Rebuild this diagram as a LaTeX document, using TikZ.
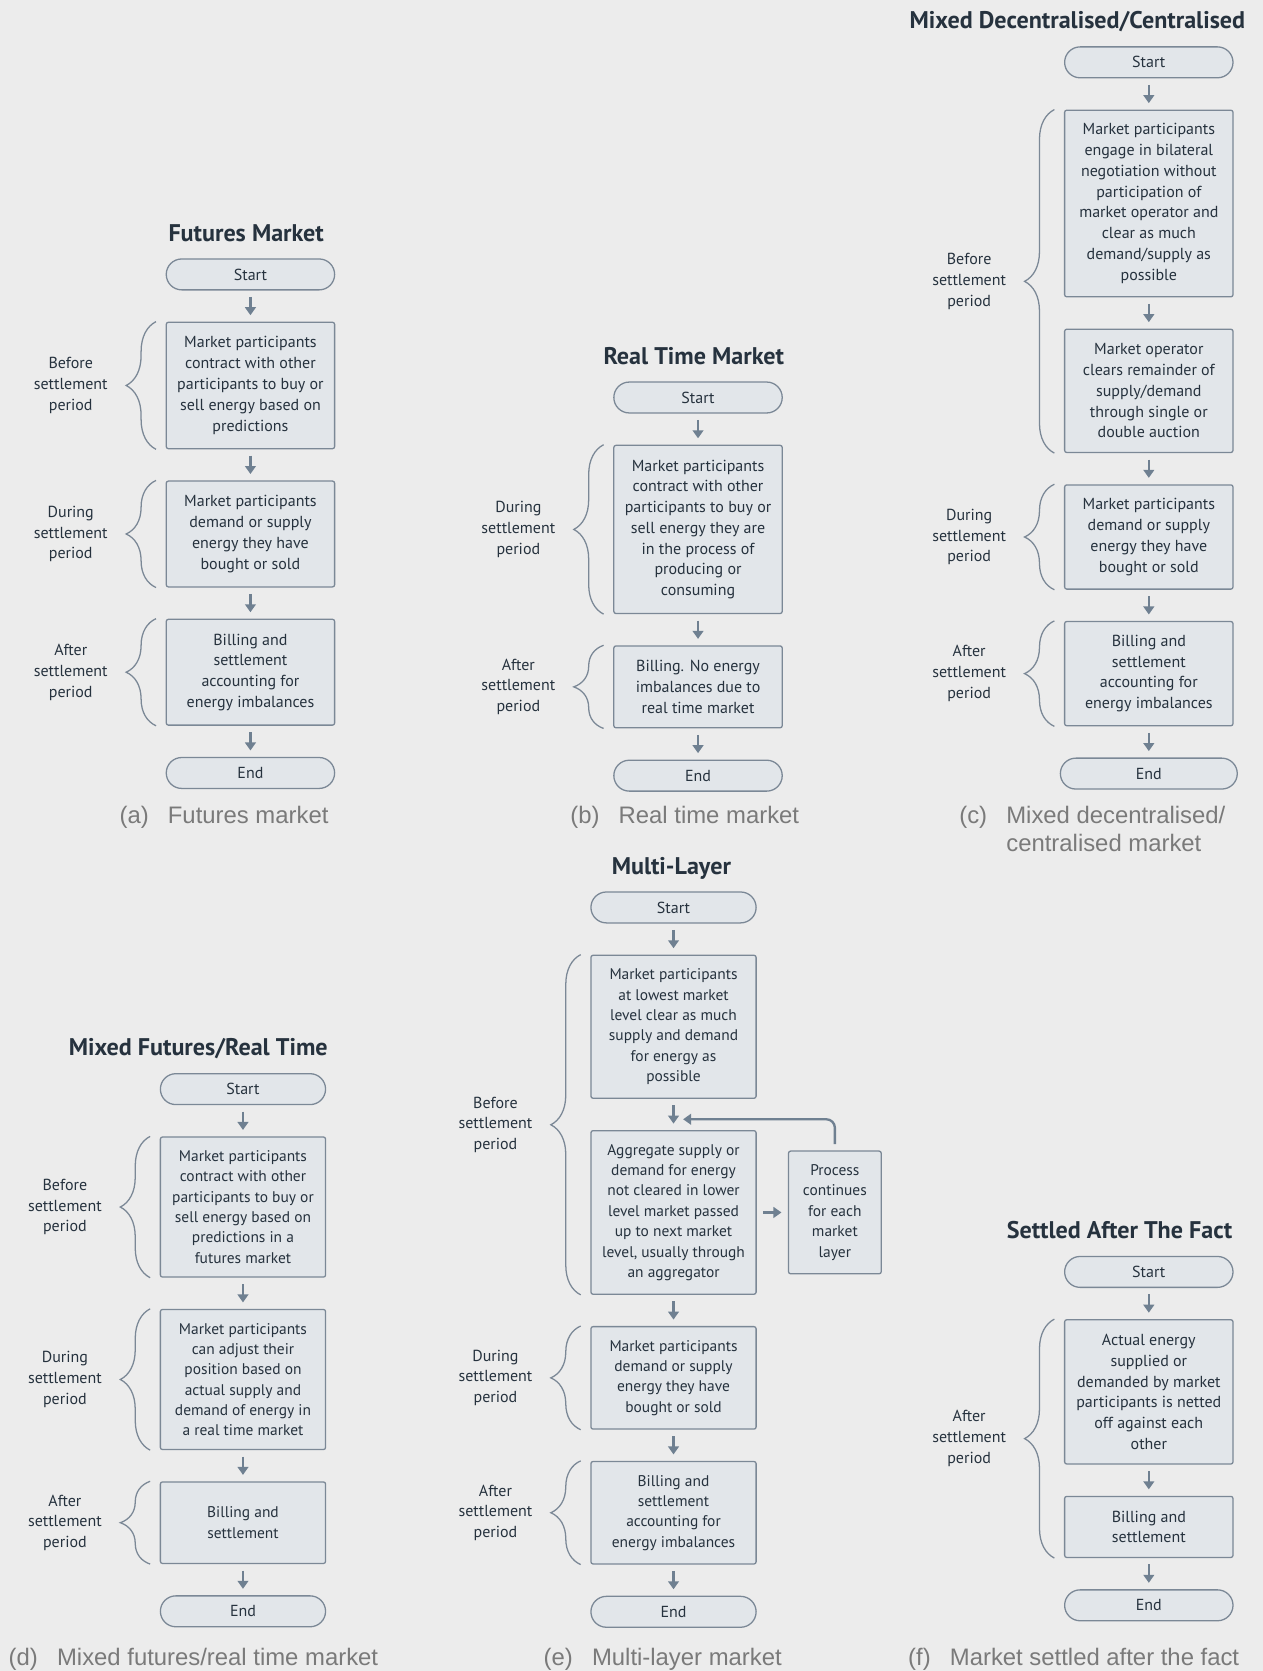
\documentclass[tikz,border=0pt]{standalone}
\usepackage{fontspec}
\setmainfont{PT Sans}
\newfontfamily\capfont{Liberation Sans}
\usetikzlibrary{positioning,arrows.meta,decorations.pathreplacing,calc}

\definecolor{pagebg}{HTML}{ECECEC}
\definecolor{boxfill}{HTML}{E2E6EA}
\definecolor{boxline}{HTML}{7B8896}
\definecolor{arrowc}{HTML}{6F8091}
\definecolor{ink}{HTML}{26323E}
\definecolor{capgray}{HTML}{7A7A7A}

\begin{document}
\begin{tikzpicture}[x=1pt, y=1pt, node distance=29.2pt,
    heading/.style={font=\bfseries\fontsize{22.6}{26}\selectfont, text=ink, inner sep=0pt, text depth=0pt},
    terminal/.style={draw=boxline, fill=boxfill, line width=1.2pt, rounded corners=14.5pt, minimum width=158pt, minimum height=29pt, inner sep=0pt, font=\fontsize{15}{19.5}\selectfont, text=ink},
    stepbox/.style={draw=boxline, fill=boxfill, line width=1.2pt, rounded corners=2pt, minimum width=158pt, inner xsep=4pt, inner ysep=13.5pt, align=center, font=\fontsize{15}{19.5}\selectfont, text=ink},
    smallbox/.style={stepbox, minimum width=155pt, inner ysep=12.75pt, font=\fontsize{14.5}{19.1}\selectfont},
    flow/.style={draw=arrowc, line width=2.2pt, -{Triangle[length=7.5pt,width=10pt]}, shorten <=6pt, shorten >=6pt},
    period/.style={draw=boxline, line width=1.2pt, decorate, decoration={brace, amplitude=28pt}},
    periodlbl/.style={align=center, font=\fontsize{15}{19.5}\selectfont, text=ink, xshift=-80pt},
    subcap/.style={anchor=base west, inner sep=0pt, font=\capfont\fontsize{22.4}{26}\selectfont, text=capgray}]

    \useasboundingbox[fill=pagebg] (0,0) rectangle (1185,-1568);

    % (a)
    \node[terminal] (a0) at (235,-257.5) {Start};
    \node[heading, above=16pt of a0, xshift=-4pt] (ta) {Futures Market};
    \node[stepbox, below=of a0] (a1) {Market participants\\contract with other\\participants to buy or\\sell energy based on\\predictions};
    \node[stepbox, below=of a1] (a2) {Market participants\\demand or supply\\energy they have\\bought or sold};
    \node[stepbox, below=of a2] (a3) {Billing and\\settlement\\accounting for\\energy imbalances};
    \node[terminal, below=of a3] (a4) {End};
    \node[subcap] (capa) at (112,-773) {(a)\hspace{18pt}Futures market};

    \draw[flow] (a0) -- (a1);
    \draw[flow] (a1) -- (a2);
    \draw[flow] (a2) -- (a3);
    \draw[flow] (a3) -- (a4);

    \draw[period] ([xshift=-9pt]a1.south west) -- ([xshift=-9pt]a1.north west) node[midway, periodlbl] (la1) {Before\\settlement\\period};
    \draw[period] ([xshift=-9pt]a2.south west) -- ([xshift=-9pt]a2.north west) node[midway, periodlbl] (la2) {During\\settlement\\period};
    \draw[period] ([xshift=-9pt]a3.south west) -- ([xshift=-9pt]a3.north west) node[midway, periodlbl] (la3) {After\\settlement\\period};

    % (b)
    \node[terminal] (b0) at (655,-373) {Start};
    \node[heading, above=16pt of b0, xshift=-4pt] (tb) {Real Time Market};
    \node[stepbox, below=of b0] (b1) {Market participants\\contract with other\\participants to buy or\\sell energy they are\\in the process of\\producing or\\consuming};
    \node[stepbox, below=of b1] (b2) {Billing. No energy\\imbalances due to\\real time market};
    \node[terminal, below=of b2] (b3) {End};
    \node[subcap] (capb) at (535,-773) {(b)\hspace{18pt}Real time market};

    \draw[flow] (b0) -- (b1);
    \draw[flow] (b1) -- (b2);
    \draw[flow] (b2) -- (b3);

    \draw[period] ([xshift=-9pt]b1.south west) -- ([xshift=-9pt]b1.north west) node[midway, periodlbl] (lb1) {During\\settlement\\period};
    \draw[period] ([xshift=-9pt]b2.south west) -- ([xshift=-9pt]b2.north west) node[midway, periodlbl] (lb2) {After\\settlement\\period};

    % (c)
    \node[terminal] (c0) at (1078,-58.5) {Start};
    \node[heading, above=16pt of c0, xshift=-67pt] (tc) {Mixed Decentralised/Centralised};
    \node[stepbox, below=of c0, inner ysep=12.5pt] (c1) {Market participants\\engage in bilateral\\negotiation without\\participation of\\market operator and\\clear as much\\demand/supply as\\possible};
    \node[stepbox, below=of c1] (c2) {Market operator\\clears remainder of\\supply/demand\\through single or\\double auction};
    \node[stepbox, below=of c2, inner ysep=12.75pt] (c3) {Market participants\\demand or supply\\energy they have\\bought or sold};
    \node[stepbox, below=of c3, inner ysep=12.75pt] (c4) {Billing and\\settlement\\accounting for\\energy imbalances};
    \node[terminal, below=of c4, minimum width=166pt] (c5) {End};
    \node[subcap] (capc) at (900,-773) {(c)\hspace{18pt}\begin{tabular}[t]{@{}l@{}}Mixed decentralised/\\centralised market\end{tabular}};

    \draw[flow] (c0) -- (c1);
    \draw[flow] (c1) -- (c2);
    \draw[flow] (c2) -- (c3);
    \draw[flow] (c3) -- (c4);
    \draw[flow] (c4) -- (c5);

    \draw[period] ([xshift=-9pt]c2.south west) -- ([xshift=-9pt]c1.north west) node[midway, periodlbl] (lc1) {Before\\settlement\\period};
    \draw[period] ([xshift=-9pt]c3.south west) -- ([xshift=-9pt]c3.north west) node[midway, periodlbl] (lc2) {During\\settlement\\period};
    \draw[period] ([xshift=-9pt]c4.south west) -- ([xshift=-9pt]c4.north west) node[midway, periodlbl] (lc3) {After\\settlement\\period};

    % (d)
    \node[terminal, minimum width=155pt] (d0) at (228,-1022) {Start};
    \node[heading, above=16pt of d0, xshift=-42pt] (td) {Mixed Futures/Real Time};
    \node[smallbox, below=of d0] (d1) {Market participants\\contract with other\\participants to buy or\\sell energy based on\\predictions in a\\futures market};
    \node[smallbox, below=of d1] (d2) {Market participants\\can adjust their\\position based on\\actual supply and\\demand of energy in\\a real time market};
    \node[smallbox, below=of d2, minimum height=76.5pt] (d3) {Billing and\\settlement};
    \node[terminal, below=of d3, minimum width=155pt] (d4) {End};
    \node[subcap] (capd) at (8,-1563) {(d)\hspace{18pt}Mixed futures/real time market};

    \draw[flow] (d0) -- (d1);
    \draw[flow] (d1) -- (d2);
    \draw[flow] (d2) -- (d3);
    \draw[flow] (d3) -- (d4);

    \draw[period] ([xshift=-9pt]d1.south west) -- ([xshift=-9pt]d1.north west) node[midway, periodlbl] (ld1) {Before\\settlement\\period};
    \draw[period] ([xshift=-9pt]d2.south west) -- ([xshift=-9pt]d2.north west) node[midway, periodlbl] (ld2) {During\\settlement\\period};
    \draw[period] ([xshift=-9pt]d3.south west) -- ([xshift=-9pt]d3.north west) node[midway, periodlbl] (ld3) {After\\settlement\\period};

    % (e)
    \node[terminal, minimum width=155pt] (e0) at (632,-851.5) {Start};
    \node[heading, above=16pt of e0, xshift=-2pt] (te) {Multi-Layer};
    \node[smallbox, below=of e0] (e1) {Market participants\\at lowest market\\level clear as much\\supply and demand\\for energy as\\possible};
    \node[smallbox, below=of e1] (e2) {Aggregate supply or\\demand for energy\\not cleared in lower\\level market passed\\up to next market\\level, usually through\\an aggregator};
    \node[smallbox, right=of e2, minimum width=87pt] (ep) {Process\\continues\\for each\\market\\layer};
    \node[smallbox, below=of e2] (e3) {Market participants\\demand or supply\\energy they have\\bought or sold};
    \node[smallbox, below=of e3] (e4) {Billing and\\settlement\\accounting for\\energy imbalances};
    \node[terminal, below=of e4, minimum width=155pt] (e5) {End};
    \node[subcap] (cape) at (510,-1563) {(e)\hspace{18pt}Multi-layer market};
    \coordinate (eret) at ([xshift=9pt,yshift=-4.5pt]$(e1.south)!0.5!(e2.north)$);

    \draw[flow] (e0) -- (e1);
    \draw[flow] (e1) -- (e2);
    \draw[flow] (e2) -- (ep);
    \draw[flow, rounded corners=8pt, shorten >=0pt] (ep.north) |- (eret);
    \draw[flow] (e2) -- (e3);
    \draw[flow] (e3) -- (e4);
    \draw[flow] (e4) -- (e5);

    \draw[period] ([xshift=-9pt]e2.south west) -- ([xshift=-9pt]e1.north west) node[midway, periodlbl] (le1) {Before\\settlement\\period};
    \draw[period] ([xshift=-9pt]e3.south west) -- ([xshift=-9pt]e3.north west) node[midway, periodlbl] (le2) {During\\settlement\\period};
    \draw[period] ([xshift=-9pt]e4.south west) -- ([xshift=-9pt]e4.north west) node[midway, periodlbl] (le3) {After\\settlement\\period};

    % (f)
    \node[terminal] (f0) at (1078,-1193.5) {Start};
    \node[heading, above=16pt of f0, xshift=-27.5pt] (tf) {Settled After The Fact};
    \node[stepbox, below=of f0] (f1) {Actual energy\\supplied or\\demanded by market\\participants is netted\\off against each\\other};
    \node[stepbox, below=of f1] (f2) {Billing and\\settlement};
    \node[terminal, below=of f2] (f3) {End};
    \node[subcap] (capf) at (852,-1563) {(f)\hspace{18pt}Market settled after the fact};

    \draw[flow] (f0) -- (f1);
    \draw[flow] (f1) -- (f2);
    \draw[flow] (f2) -- (f3);

    \draw[period] ([xshift=-9pt]f2.south west) -- ([xshift=-9pt]f1.north west) node[midway, periodlbl] (lf1) {After\\settlement\\period};
\end{tikzpicture}
\end{document}
